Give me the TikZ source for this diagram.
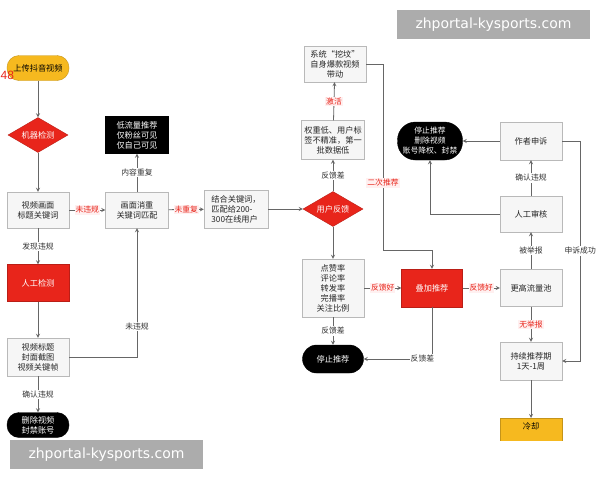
\documentclass[tikz,border=0pt]{standalone}
\usepackage{fontspec}
\setmainfont{Noto Sans CJK SC}
\newfontfamily\wmfont{DejaVu Sans}
\newfontfamily\numfont{Liberation Sans}
\usepackage{tikz}
\usetikzlibrary{shapes,arrows,positioning}
\definecolor{flowred}{HTML}{E8251B}
\definecolor{flowyellow}{HTML}{F6B91F}
\definecolor{boxgray}{HTML}{F6F6F6}
\definecolor{edgegray}{HTML}{666666}
\tikzstyle{gbox} = [rectangle, draw=gray!55, fill=boxgray, text=black!85, align=center, minimum width=62pt, minimum height=36pt, inner sep=1pt, font=\fontsize{8.2}{10}\selectfont]
\tikzstyle{rbox} = [gbox, draw=flowred!80!black, fill=flowred, text=white]
\tikzstyle{bbox} = [gbox, draw=black, fill=black, text=white]
\tikzstyle{bpill} = [gbox, draw=black, fill=black, text=white, rounded corners=12pt, minimum height=25pt]
\tikzstyle{ypill} = [gbox, draw=flowyellow!80!black, fill=flowyellow, text=black, rounded corners=12pt, minimum height=25pt]
\tikzstyle{ybox} = [gbox, draw=flowyellow!80!black, fill=flowyellow, text=black]
\tikzstyle{rdiam} = [diamond, draw=flowred!80!black, fill=flowred, text=white, inner sep=0pt, aspect=1.7, minimum width=60pt, minimum height=35pt, font=\fontsize{8.2}{10}\selectfont]
\tikzstyle{lab} = [fill=white, inner sep=1pt, text=black!80, font=\fontsize{7.8}{9}\selectfont]
\tikzstyle{rlab} = [lab, text=flowred, fill=red!6]
\tikzstyle{line} = [draw=edgegray, line width=0.8pt, -stealth]
\tikzstyle{wmark} = [rectangle, fill=gray!65, text=white, minimum width=193pt, minimum height=29pt, inner sep=0pt, font=\wmfont\fontsize{14}{14}\selectfont]

\begin{document}
\begin{tikzpicture}[x=1pt,y=-1pt]
\useasboundingbox (0,0) rectangle (600,480);
\fill [white] (0,0) rectangle (600,480);

% left column
\node [ypill] (upload) at (38,68) {上传抖音视频};
\node [text=flowred, inner sep=0pt, anchor=west, font=\numfont\fontsize{12}{12}\selectfont] (num) at (0.5,75) {48};
\node [rdiam] (machine) at (38,135) {机器检测};
\node [gbox] (vframe) at (38,210) {视频画面\\标题关键词};
\node [rbox, minimum height=37pt] (manual) at (38,283) {人工检测};
\node [gbox, minimum height=38pt] (vtitle) at (38,357) {视频标题\\封面截图\\视频关键帧};
\node [bpill] (delete) at (38,425) {删除视频\\封禁账号};

% second column
\node [gbox, minimum width=63pt] (dedup) at (137,210) {画面消重\\关键词匹配};
\node [bbox, minimum width=63pt, minimum height=37pt] (lowflow) at (137,135) {低流量推荐\\仅粉丝可见\\仅自己可见};
\node [gbox, align=left, minimum width=64pt, minimum height=38pt] (online) at (236,209) {结合关键词，\\匹配给200-\\300在线用户};

% feedback column
\node [rdiam] (feedback) at (333,209) {用户反馈};
\node [gbox, minimum width=63pt, minimum height=39pt] (lowweight) at (333,140) {权重低、用户标\\签不精准，第一\\批数据低};
\node [gbox] (dig) at (335,64) {系统“挖坟”\\自身爆款视频\\带动};
\node [gbox, minimum height=58pt] (rates) at (333,288) {点赞率\\评论率\\转发率\\完播率\\关注比例};
\node [bpill, minimum width=61pt, minimum height=28pt, rounded corners=14pt] (stop) at (333,359) {停止推荐};
\node [rbox, minimum width=61pt, minimum height=38pt] (boost) at (432,288) {叠加推荐};
\coordinate (turn) at (383,250);

% right column
\node [gbox, minimum height=37pt] (higher) at (531,288) {更高流量池};
\node [gbox] (review) at (531,214) {人工审核};
\node [gbox, minimum height=38pt] (appeal) at (531,141) {作者申诉};
\node [bpill, minimum width=65pt, minimum height=38pt, rounded corners=18pt, font=\fontsize{7.8}{10}\selectfont] (ban) at (430,141) {停止推荐\\删除视频\\账号降权、封禁};
\node [gbox, minimum height=38pt] (keep) at (531,361) {持续推荐期\\1天-1周};
\begin{scope}
\clip (0,0) rectangle (600,440);
\node [ybox, anchor=north, minimum height=0pt, text height=8pt, text depth=26pt, inner sep=3pt] (cool) at (531,418) {冷却};
\end{scope}

\path [line] (upload) -- (machine);
\path [line] (machine) -- (vframe);
\path [line] (vframe) -- node [lab] {发现违规} (manual);
\path [line] (manual) -- (vtitle);
\path [line] (vtitle) -- node [lab] {确认违规} (delete);
\path [line] (vframe) -- node [rlab] {未违规} (dedup);
\path [line] (vtitle.east) -| node [lab, pos=0.62] {未违规} (dedup.south);
\path [line] (dedup) -- node [lab] {内容重复} (lowflow);
\path [line] (dedup) -- node [rlab] {未重复} (online);
\path [line] (online) -- (feedback);
\path [line] (feedback) -- node [lab] {反馈差} (lowweight);
\path [line] (lowweight) -- node [rlab] {激活} (dig);
\path [line] (dig.east) -| node [rlab, pos=0.82] {二次推荐} (turn) -| (boost.north);
\path [line] (feedback) -- (rates);
\path [line] (rates) -- node [rlab] {反馈好} (boost);
\path [line] (rates) -- node [lab] {反馈差} (stop);
\path [line] (boost.south) |- node [lab, pos=0.57] {反馈差} (stop.east);
\path [line] (boost) -- node [rlab] {反馈好} (higher);
\path [line] (higher) -- node [lab] {被举报} (review);
\path [line] (review) -- node [lab] {确认违规} (appeal);
\path [line] (appeal) -- (ban);
\path [line] (review.west) -| (ban.south);
\path [line] (appeal.east) -- ++(18,0) |- node [lab, pos=0.25] {申诉成功} (keep.east);
\path [line] (higher) -- node [rlab] {无举报} (keep);
\path [line] (keep) -- (cool);

% watermarks
\node [wmark] (wmtop) at (493.5,24.5) {zhportal-kysports.com};
\node [wmark] (wmbottom) at (106.5,454.5) {zhportal-kysports.com};
\end{tikzpicture}
\end{document}
